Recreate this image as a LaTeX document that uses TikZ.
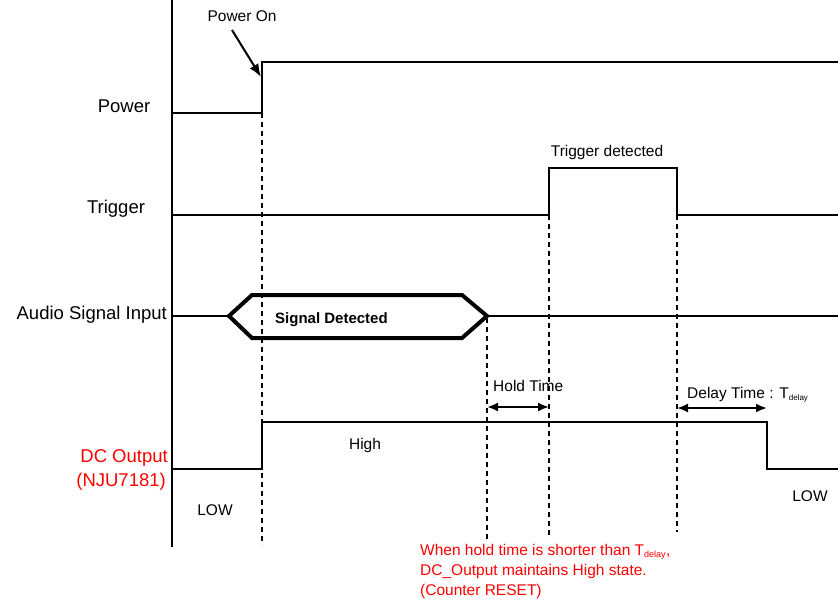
\documentclass[tikz,border=0pt]{standalone}
\usepackage{fontspec}
\setmainfont{Liberation Sans}
\usetikzlibrary{arrows.meta}
\definecolor{redtxt}{RGB}{255,0,0}
\begin{document}
\begin{tikzpicture}[x=1pt,y=-1pt,
  sig/.style={line width=1.7pt},
  guide/.style={line width=1.7pt,dash pattern=on 5pt off 4pt},
  biglbl/.style={font=\fontsize{18.5}{20}\selectfont,inner sep=0pt},
  smlbl/.style={font=\fontsize{15.5}{17}\selectfont,inner sep=0pt},
  dim/.style={line width=2pt,{Latex[length=11pt,width=9pt]}-{Latex[length=11pt,width=9pt]}}]
\useasboundingbox (0,0) rectangle (838,600);
% axis
\draw[line width=1.7pt] (172,0) -- (172,547);
% Power
\draw[sig] (172,113) -- (262,113) -- (262,62) -- (838,62);
\node[biglbl] (pwr) at (124,106) {Power};
\node[smlbl] (pon) at (242,16) {Power On};
\coordinate (ponTip) at (261,77);
\draw[line width=2pt,-{Latex[length=13pt,width=10pt]}] (232,30) -- (ponTip);
% Trigger
\draw[sig] (172,215) -- (549,215) -- (549,168) -- (677,168) -- (677,215) -- (838,215);
\node[biglbl] (trg) at (116,209) {Trigger};
\node[smlbl] (trgdet) at (607,152) {Trigger detected};
% Audio
\draw[sig] (172,316) -- (229,316);
\draw[line width=4pt,line join=miter] (229,316) -- (252,295) -- (462,295) -- (487,316) -- (462,338) -- (252,338) -- cycle;
\draw[sig] (487,316) -- (838,316);
\node[biglbl,anchor=east] (aud) at (167,315) {Audio Signal Input};
\node[smlbl,font=\fontsize{15}{17}\selectfont\bfseries,anchor=west] (sd) at (275,320) {Signal Detected};
% DC output
\draw[sig] (172,469) -- (262,469) -- (262,422) -- (767,422) -- (767,469) -- (838,469);
\node[biglbl,text=redtxt,anchor=east] (dc1) at (168,458) {DC Output};
\node[biglbl,text=redtxt,anchor=east] (dc2) at (166,482) {(NJU7181)};
\node[smlbl] (low1) at (215,510) {LOW};
\node[smlbl] (low2) at (810,496) {LOW};
\node[smlbl] (high) at (365,445) {High};
% dashed guides
\draw[guide] (262,113) -- (262,545);
\draw[guide] (487,318) -- (487,540);
\draw[guide] (549,215) -- (549,537);
\draw[guide] (677,215) -- (677,532);
% dimensions
\coordinate (h1) at (487,407);
\coordinate (h2) at (549,407);
\draw[dim] (h1) -- (h2);
\node[smlbl,anchor=west] (hold) at (493,386) {Hold Time};
\coordinate (d1) at (677,408);
\coordinate (d2) at (767,408);
\draw[dim] (d1) -- (d2);
\node[smlbl,anchor=west] (delay) at (687,395) {Delay Time : T\textsubscript{\fontsize{8}{9}\selectfont delay}};
% note
\node[font=\fontsize{15.5}{20}\selectfont,text=redtxt,align=left,anchor=north west,inner sep=0pt] (note) at (420,544)
 {When hold time is shorter than T\textsubscript{\fontsize{9}{10}\selectfont delay},\\DC\_Output maintains High state.\\(Counter RESET)};
\end{tikzpicture}
\end{document}
